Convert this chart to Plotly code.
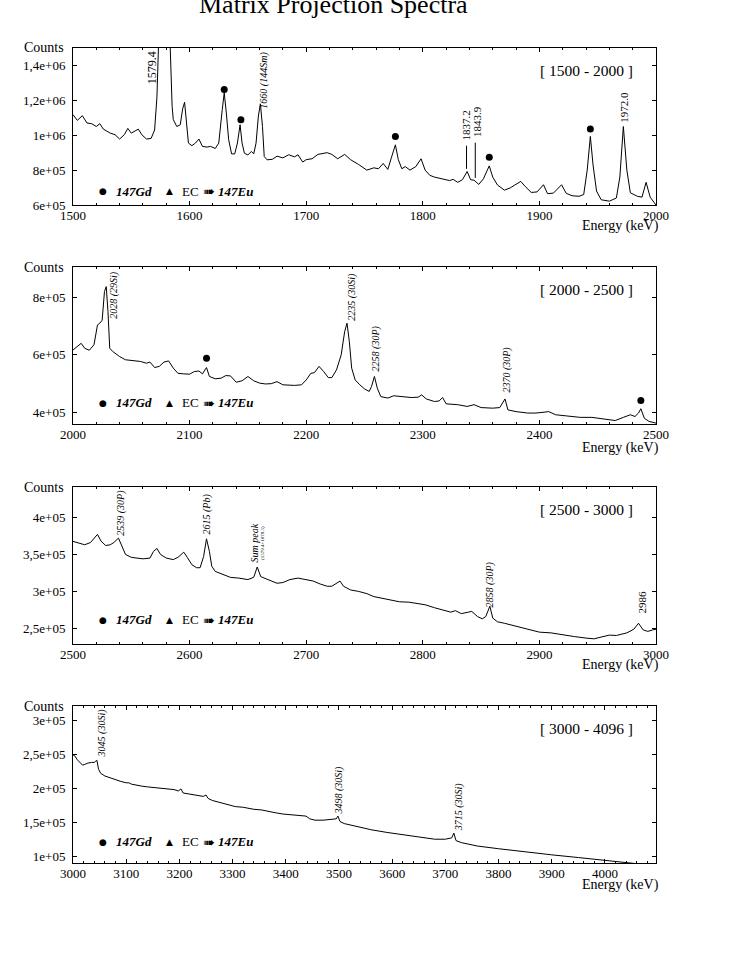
import numpy as np
import plotly.graph_objects as go

FONT = "Liberation Serif, Times New Roman, serif"
W, H = 752, 973

# ---------------- data (counts in units of 1e5) ----------------
p1_energy = [1500, 1503.7, 1508, 1512, 1516, 1520, 1523, 1526, 1532, 1536, 1540, 1544, 1547, 1550, 1556, 1559,
             1563, 1567, 1570, 1572, 1573.5, 1576, 1578.5, 1581, 1583, 1585, 1586, 1589, 1592, 1594, 1595.7,
             1597.7, 1599, 1602, 1605, 1608, 1611, 1615, 1618, 1622, 1625, 1628, 1629.7, 1631.5, 1633.5, 1636,
             1638.7, 1641, 1643.3, 1645, 1647, 1650, 1653, 1655, 1657, 1659, 1660.7, 1662.5, 1664, 1666.5, 1671,
             1675, 1680, 1685, 1690, 1693, 1697, 1700, 1705, 1710, 1718, 1722, 1727, 1733, 1738, 1745, 1752,
             1758, 1762, 1766, 1770, 1773, 1776.5, 1779, 1782, 1785, 1789, 1794, 1798.5, 1802, 1806, 1810, 1814,
             1818, 1823, 1826, 1830, 1834, 1838, 1841, 1844, 1848, 1852, 1855, 1857, 1860, 1864, 1870, 1875,
             1879, 1884, 1888, 1893, 1898, 1903.5, 1907, 1912, 1919, 1923, 1928, 1934, 1938, 1941, 1943.7, 1946,
             1949, 1953, 1960, 1966, 1969, 1972, 1975, 1978, 1984, 1988, 1991.5, 1995, 2000]
p1_counts = [11.18, 10.85, 11.12, 10.7, 10.66, 10.5, 10.66, 10.35, 10.12, 10.03, 9.78, 10.03, 10.39, 10.12, 10.35, 10.03,
             9.78, 9.82, 10.3, 12.2, 15.5, 22, 25, 20, 15.5, 11.66, 10.9, 10.5, 10.6, 11.5, 11.89,
             10.7, 9.55, 9.4, 9.55, 9.78, 9.36, 9.32, 9.36, 9.24, 9.55, 11.47, 12.43, 11.27, 9.74, 8.93,
             8.93, 9.55, 10.6, 9.55, 8.97, 8.87, 9.07, 8.93, 9.55, 11.1, 11.8, 10.5, 8.78, 8.59, 8.62,
             8.8, 8.7, 8.88, 8.76, 8.88, 8.46, 8.6, 8.65, 8.9, 9.0, 8.9, 8.65, 8.9, 8.6, 8.32, 8.0,
             8.13, 8.08, 8.38, 8.04, 8.7, 9.45, 8.6, 8.08, 8.2, 8.0, 8.2, 8.65, 8.0, 7.7, 7.6, 7.55,
             7.47, 7.4, 7.47, 7.3, 7.45, 7.92, 7.45, 7.42, 7.18, 7.5, 7.95, 8.24, 7.6, 7.15, 6.85, 6.98,
             7.15, 7.35, 7.05, 6.72, 6.75, 7.16, 6.65, 6.68, 7.16, 6.67, 6.53, 6.5, 6.6, 8.0, 9.93, 8.3,
             6.8, 6.3, 6.22, 6.4, 7.6, 10.5, 8.0, 6.7, 6.5, 6.45, 7.3, 6.45, 6.0]

p2_energy = [2000, 2004, 2007, 2010, 2014, 2018, 2021, 2023, 2025, 2027, 2028.5, 2030, 2031.5, 2034, 2040, 2045,
             2052, 2058, 2063, 2066, 2070, 2074, 2078, 2082, 2086, 2090, 2095, 2100, 2104, 2108, 2111, 2114.5,
             2117, 2122, 2127, 2131, 2135, 2140, 2145, 2150, 2155, 2160, 2165, 2170, 2175, 2180, 2190, 2196,
             2200, 2204, 2207, 2211, 2215, 2219, 2222, 2226, 2230, 2233, 2235, 2237, 2239, 2242, 2246, 2250,
             2254, 2256, 2258.5, 2261, 2264, 2270, 2275, 2282, 2290, 2296, 2299, 2303, 2310, 2314, 2317, 2320,
             2330, 2338, 2344, 2350, 2360, 2366, 2369, 2370.5, 2373, 2380, 2390, 2397, 2404, 2408, 2414, 2425,
             2435, 2445, 2455, 2465, 2472, 2478, 2482, 2485, 2487, 2490, 2494, 2500]
p2_counts = [6.17, 6.29, 6.4, 6.23, 6.16, 6.35, 7.04, 7.1, 7.2, 8.2, 8.37, 7.5, 6.23, 6.12, 5.94, 5.83,
             5.8, 5.77, 5.71, 5.75, 5.56, 5.6, 5.75, 5.79, 5.54, 5.36, 5.34, 5.33, 5.42, 5.44, 5.34, 5.56,
             5.25, 5.17, 5.19, 5.28, 5.27, 5.05, 5.1, 5.25, 5.1, 5.02, 4.99, 5.0, 5.07, 4.96, 4.94, 4.96,
             5.13, 5.36, 5.38, 5.6, 5.42, 5.21, 5.21, 5.48, 6.0, 6.81, 7.1, 6.46, 5.54, 5.13, 4.96, 4.82,
             4.73, 4.9, 5.25, 4.84, 4.55, 4.5, 4.58, 4.56, 4.52, 4.53, 4.61, 4.47, 4.38, 4.4, 4.52, 4.3,
             4.27, 4.21, 4.27, 4.17, 4.15, 4.17, 4.38, 4.47, 4.09, 4.03, 3.98, 3.98, 4.01, 4.03, 3.92, 3.86,
             3.83, 3.83, 3.77, 3.72, 3.83, 3.92, 3.86, 3.98, 4.13, 3.8, 3.69, 3.63]

p3_energy = [2500, 2505, 2510, 2515, 2518, 2521, 2524, 2528, 2532, 2535, 2539, 2542, 2545, 2550, 2560, 2566,
             2569, 2572, 2575, 2580, 2586, 2590, 2595, 2598, 2602, 2606, 2609, 2612, 2614.5, 2617, 2619, 2622,
             2628, 2635, 2642, 2650, 2655, 2658, 2661, 2664, 2668, 2675, 2680, 2686, 2693, 2700, 2706, 2712,
             2718, 2722, 2726, 2729, 2732, 2738, 2745, 2752, 2758, 2765, 2772, 2780, 2788, 2795, 2802, 2810,
             2818, 2824, 2828, 2833, 2839, 2842, 2847, 2851, 2854, 2857.5, 2860, 2864, 2870, 2880, 2890, 2900,
             2910, 2920, 2930, 2940, 2947, 2952, 2960, 2966, 2975, 2981, 2985, 2989, 2993, 2997, 3000]
p3_counts = [3.676, 3.65, 3.63, 3.66, 3.72, 3.77, 3.68, 3.62, 3.63, 3.66, 3.72, 3.61, 3.5, 3.46, 3.44, 3.45,
             3.54, 3.58, 3.5, 3.45, 3.43, 3.46, 3.53, 3.46, 3.36, 3.32, 3.32, 3.47, 3.71, 3.54, 3.34, 3.27,
             3.23, 3.19, 3.18, 3.16, 3.19, 3.33, 3.2, 3.18, 3.15, 3.11, 3.12, 3.16, 3.18, 3.16, 3.14, 3.1,
             3.07, 3.07, 3.11, 3.14, 3.07, 3.02, 3.0, 2.97, 2.93, 2.91, 2.89, 2.86, 2.855, 2.84, 2.82, 2.78,
             2.75, 2.72, 2.74, 2.7, 2.72, 2.73, 2.66, 2.63, 2.66, 2.8, 2.64, 2.59, 2.57, 2.53, 2.48, 2.45,
             2.44, 2.41, 2.39, 2.37, 2.36, 2.38, 2.41, 2.405, 2.44, 2.49, 2.57, 2.48, 2.46, 2.48, 2.49]

p4_energy = [3000, 3003, 3008, 3013, 3018, 3022, 3028, 3035, 3040, 3043, 3045, 3048, 3052, 3060, 3070, 3080,
             3090, 3100, 3105, 3110, 3120, 3130, 3140, 3150, 3160, 3170, 3180, 3190, 3198, 3203, 3207, 3215,
             3225, 3235, 3245, 3250, 3254, 3262, 3275, 3290, 3305, 3320, 3340, 3355, 3370, 3380, 3395, 3410,
             3425, 3438, 3445, 3455, 3470, 3485, 3495, 3498, 3502, 3510, 3530, 3560, 3590, 3620, 3650, 3680,
             3700, 3712, 3716, 3720, 3730, 3760, 3800, 3850, 3900, 3950, 4000, 4030, 4050, 4070, 4096]
p4_counts = [2.49, 2.48, 2.42, 2.38, 2.34, 2.35, 2.37, 2.38, 2.38, 2.4, 2.41, 2.28, 2.22, 2.18, 2.15, 2.12,
             2.1, 2.08, 2.08, 2.06, 2.04, 2.03, 2.02, 2.01, 2.005, 2.0, 1.99, 1.98, 1.96, 1.99, 1.93, 1.92,
             1.9, 1.89, 1.88, 1.9, 1.85, 1.82, 1.79, 1.76, 1.73, 1.72, 1.69, 1.68, 1.65, 1.64, 1.62, 1.61,
             1.6, 1.59, 1.55, 1.53, 1.53, 1.54, 1.55, 1.59, 1.51, 1.48, 1.44, 1.39, 1.35, 1.32, 1.29, 1.25,
             1.25, 1.27, 1.34, 1.23, 1.2, 1.15, 1.11, 1.06, 1.02, 0.98, 0.94, 0.92, 0.9, 0.88, 0.86]

# 147Gd marked peaks (dot placed above peak)
dot_energy = [[1629.7, 1644, 1776.5, 1857, 1943.7], [2114.5, 2487], [], []]
dot_counts = [[12.62, 10.89, 9.93, 8.74, 10.36], [5.88, 4.42], [], []]

# peak labels: (text, energy, counts, italic, size)
peak_labels = [
    [("1579.4", 1568, 13.86, False, 12), ("1660 (144Sm)", 1664, 13.14, True, 10),
     ("1837.2", 1837, 10.55, False, 11), ("1843.9", 1846, 10.78, False, 11),
     ("1972.0", 1973, 11.6, False, 11)],
    [("2028 (29Si)", 2035, 8.08, True, 10), ("2235 (30Si)", 2239, 8.01, True, 10),
     ("2258 (30P)", 2260, 6.23, True, 10), ("2370 (30P)", 2372, 5.48, True, 10)],
    [("2539 (30P)", 2541, 4.06, True, 10), ("2615 (Pb)", 2615, 4.04, True, 10),
     ("Sum peak", 2656, 3.66, True, 10), ("(1579.4+1078.5)", 2662.5, 3.66, False, 5),
     ("2858 (30P)", 2858, 3.10, True, 10), ("2986", 2988, 2.85, False, 11)],
    [("3045 (30Si)", 3055, 2.81, True, 10), ("3498 (30Si)", 3500, 1.98, True, 10),
     ("3715 (30Si)", 3725, 1.73, True, 10)],
]
# leader lines in panel 1: energy, from, to
leader_energy = [1837.5, 1845.0]
leader_from = [8.07, 7.55]
leader_to = [9.40, 9.57]

x_ranges = [[1500, 2000], [2000, 2500], [2500, 3000], [3000, 4096]]
x_ticks = [list(range(1500, 2001, 100)), list(range(2000, 2501, 100)),
           list(range(2500, 3001, 100)), list(range(3000, 4001, 100))]
y_ranges = [[6.0, 15.0], [3.6, 9.05], [2.29, 4.41], [0.9, 3.21]]
y_tickvals = [[6, 8, 10, 12, 14], [4, 6, 8], [2.5, 3, 3.5, 4], [1, 1.5, 2, 2.5, 3]]
y_ticktext = [["6e+05", "8e+05", "1e+06", "1,2e+06", "1,4e+06"],
              ["4e+05", "6e+05", "8e+05"],
              ["2,5e+05", "3e+05", "3,5e+05", "4e+05"],
              ["1e+05", "1,5e+05", "2e+05", "2,5e+05", "3e+05"]]
range_titles = ["[ 1500 - 2000 ]", "[ 2000 - 2500 ]", "[ 2500 - 3000 ]", "[ 3000 - 4096 ]"]
SCALE = 1e5

# ---------------- layout geometry (pixels) ----------------
X0, X1 = 73, 656
panel_px = [(48, 205), (267, 424), (487, 644), (706, 863)]
legend_y = [0.089, 0.136, 0.153, 0.136]
energy_y = [-0.134, -0.153, -0.134, -0.14]

fig = go.Figure()
spectra = [(p1_energy, p1_counts), (p2_energy, p2_counts), (p3_energy, p3_counts), (p4_energy, p4_counts)]
annotations = []
layout = dict()

for i in range(4):
    n = "" if i == 0 else str(i + 1)
    xa, ya = "x" + n, "y" + n
    e, c = spectra[i]
    fig.add_trace(go.Scatter(x=e, y=np.array(c) * SCALE, mode="lines",
                             line=dict(color="black", width=1), xaxis=xa, yaxis=ya,
                             showlegend=False, hoverinfo="skip"))
    if dot_energy[i]:
        fig.add_trace(go.Scatter(x=dot_energy[i], y=np.array(dot_counts[i]) * SCALE, mode="markers",
                                 marker=dict(symbol="circle", size=7, color="black"),
                                 xaxis=xa, yaxis=ya, showlegend=False, hoverinfo="skip"))
    if i == 0:
        for le, lf, lt in zip(leader_energy, leader_from, leader_to):
            fig.add_trace(go.Scatter(x=[le, le], y=[lf * SCALE, lt * SCALE], mode="lines",
                                     line=dict(color="black", width=1), xaxis=xa, yaxis=ya,
                                     showlegend=False, hoverinfo="skip"))
    top, bot = panel_px[i]
    layout["xaxis" + n] = dict(
        domain=[X0 / W, X1 / W], range=x_ranges[i], tickvals=x_ticks[i], anchor=ya,
        ticks="inside", ticklen=4, tickwidth=1, tickcolor="black", mirror="allticks",
        showline=True, linecolor="black", linewidth=1, showgrid=False, zeroline=False,
        automargin=False,
        tickfont=dict(family=FONT, size=13, color="black"), ticklabelstandoff=-2,
        minor=dict(ticks="inside", ticklen=2, dtick=20, tickcolor="black"))
    layout["yaxis" + n] = dict(
        domain=[1 - bot / H, 1 - top / H], range=[y_ranges[i][0] * SCALE, y_ranges[i][1] * SCALE],
        tickvals=[v * SCALE for v in y_tickvals[i]], ticktext=y_ticktext[i], anchor=xa,
        ticks="inside", ticklen=4, tickwidth=1, tickcolor="black", mirror="allticks",
        showline=True, linecolor="black", linewidth=1, showgrid=False, zeroline=False,
        automargin=False,
        tickfont=dict(family=FONT, size=13, color="black"), ticklabelstandoff=4)

    xd, yd = xa + " domain", ya + " domain"
    annotations.append(dict(text="Counts", xref="paper", yref=yd, x=44 / W, y=1.0,
                            xanchor="center", yanchor="middle", showarrow=False,
                            font=dict(family=FONT, size=14, color="black")))
    annotations.append(dict(text="Energy (keV)", xref=xd, yref=yd, x=1.009, y=energy_y[i],
                            xanchor="right", yanchor="middle", showarrow=False,
                            font=dict(family=FONT, size=14, color="black")))
    annotations.append(dict(text=range_titles[i], xref=xd, yref=yd, x=0.881, y=0.855,
                            xanchor="center", yanchor="middle", showarrow=False,
                            font=dict(family=FONT, size=15.5, color="black")))
    # legend text
    ly = legend_y[i]
    for txt, xx, fnt, sz, anc in [("●", 0.0515, "DejaVu Sans", 9, "center"),
                                   ("<b><i>147Gd</i></b>", 0.070, FONT, 13, "left"),
                                   ("▲", 0.165, "DejaVu Sans", 9, "center"),
                                   ("EC", 0.183, FONT, 13, "left"),
                                   ("➠", 0.233, "DejaVu Sans", 14, "center"),
                                   ("<b><i>147Eu</i></b>", 0.246, FONT, 13, "left")]:
        annotations.append(dict(text=txt, xref=xd, yref=yd, x=xx, y=ly,
                                xanchor=anc, yanchor="middle", showarrow=False,
                                font=dict(family=fnt, size=sz, color="black")))
    for txt, ex, cy, ital, sz in peak_labels[i]:
        t = "<i>" + txt + "</i>" if ital else txt
        annotations.append(dict(text=t, xref=xa, yref=ya, x=ex, y=cy * SCALE, textangle=-90,
                                xanchor="center", yanchor="middle", showarrow=False,
                                font=dict(family=FONT, size=sz, color="black")))

annotations.append(dict(text="Matrix Projection Spectra", xref="paper", yref="paper",
                        x=333 / W, y=1 - 21 / H, xanchor="center", yanchor="bottom", showarrow=False,
                        font=dict(family=FONT, size=26, color="black")))

fig.update_layout(width=W, height=H, margin=dict(l=0, r=0, t=0, b=0, autoexpand=False),
                  paper_bgcolor="white", plot_bgcolor="white", showlegend=False,
                  annotations=annotations, **layout)

fig.write_html("out.html", config={"displayModeBar": False},
               post_script="document.body.style.margin='0';document.body.style.overflow='hidden';")
